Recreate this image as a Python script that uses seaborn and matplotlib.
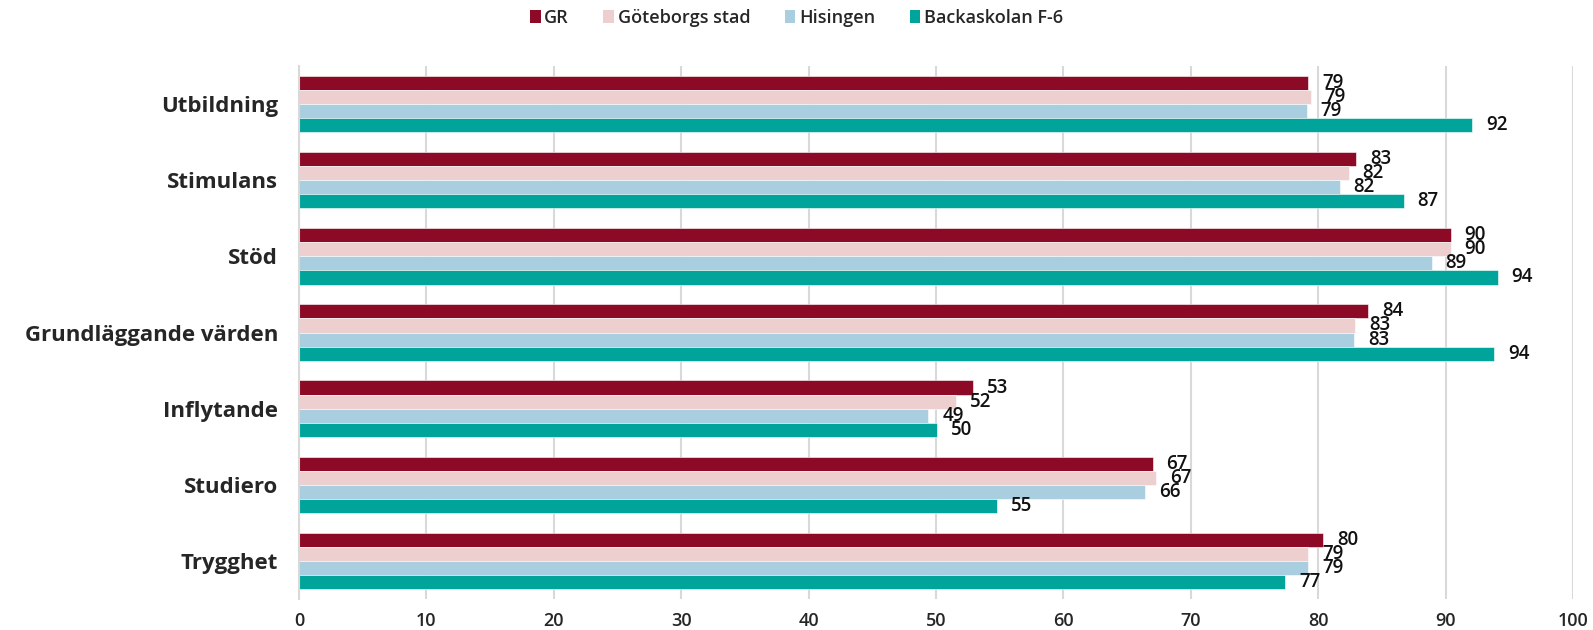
import numpy as np
import pandas as pd
import matplotlib
matplotlib.use("Agg")
import matplotlib.pyplot as plt
import seaborn as sns
from matplotlib.patches import Patch

# =========================
# DATA
# =========================

categories = ["Utbildning", "Stimulans", "Stöd", "Grundläggande värden",
              "Inflytande", "Studiero", "Trygghet"]
series = ["GR", "Göteborgs stad", "Hisingen", "Backaskolan F-6"]

gr = [79.2, 83.0, 90.4, 83.9, 52.9, 67.0, 80.4]
goteborg = [79.4, 82.4, 90.4, 82.9, 51.6, 67.3, 79.2]
hisingen = [79.1, 81.7, 88.9, 82.8, 49.4, 66.4, 79.2]
backa = [92.1, 86.7, 94.1, 93.8, 50.1, 54.8, 77.4]

colors = ["#8C0A26", "#EDCFD0", "#A9CEE0", "#00A49B"]

df = pd.DataFrame({
    "kategori": categories * 4,
    "serie": np.repeat(series, len(categories)),
    "varde": gr + goteborg + hisingen + backa,
})

# =========================
# FIGURE
# =========================

sns.set_theme(style="white")
plt.rcParams["font.family"] = ["Open Sans", "DejaVu Sans"]

fig = plt.figure(figsize=(15.93, 6.30), dpi=100)
ax = fig.add_axes([299 / 1593, 31 / 630, 1274 / 1593, 533 / 630])

sns.barplot(
    data=df, x="varde", y="kategori", hue="serie",
    hue_order=series, order=categories, palette=colors,
    width=0.74, orient="h", ax=ax, legend=False,
    edgecolor="white", linewidth=0.4, saturation=1,
)

# etiketter med avrundade värden
for cont in ax.containers:
    ax.bar_label(cont, fmt="%.0f", padding=10, fontsize=13.5,
                 fontweight="semibold", color="#111111")

ax.set_xlim(0, 100)
ax.set_ylim(6.5, -0.5)
ax.set_xticks(np.arange(0, 101, 10))
ax.set_xlabel("")
ax.set_ylabel("")
ax.xaxis.grid(True, color="#D9D9D9", linewidth=1.5)
ax.set_axisbelow(True)

for side in ["top", "right", "bottom"]:
    ax.spines[side].set_visible(False)
ax.spines["left"].set_color("#D9D9D9")
ax.spines["left"].set_linewidth(1.5)

ax.tick_params(axis="x", length=0, labelsize=13, pad=9)
ax.tick_params(axis="y", which="major", length=0, labelsize=16, pad=15)
ax.set_yticks(np.arange(-0.5, 7, 1), minor=True)
ax.tick_params(axis="y", which="minor", length=6, color="#D9D9D9", width=1.5)
for lab in ax.get_yticklabels():
    lab.set_fontweight("bold")
for lab in ax.get_xticklabels():
    lab.set_fontweight("semibold")

handles = [Patch(facecolor=c, edgecolor="none") for c in colors]
fig.legend(handles, series, loc="center", bbox_to_anchor=(0.5, 1 - 18 / 630),
           ncol=4, frameon=False, handlelength=0.6, handleheight=0.75,
           handletextpad=0.2, columnspacing=1.9,
           prop={"size": 13, "weight": "semibold"})

plt.savefig("out.png", dpi=100)
